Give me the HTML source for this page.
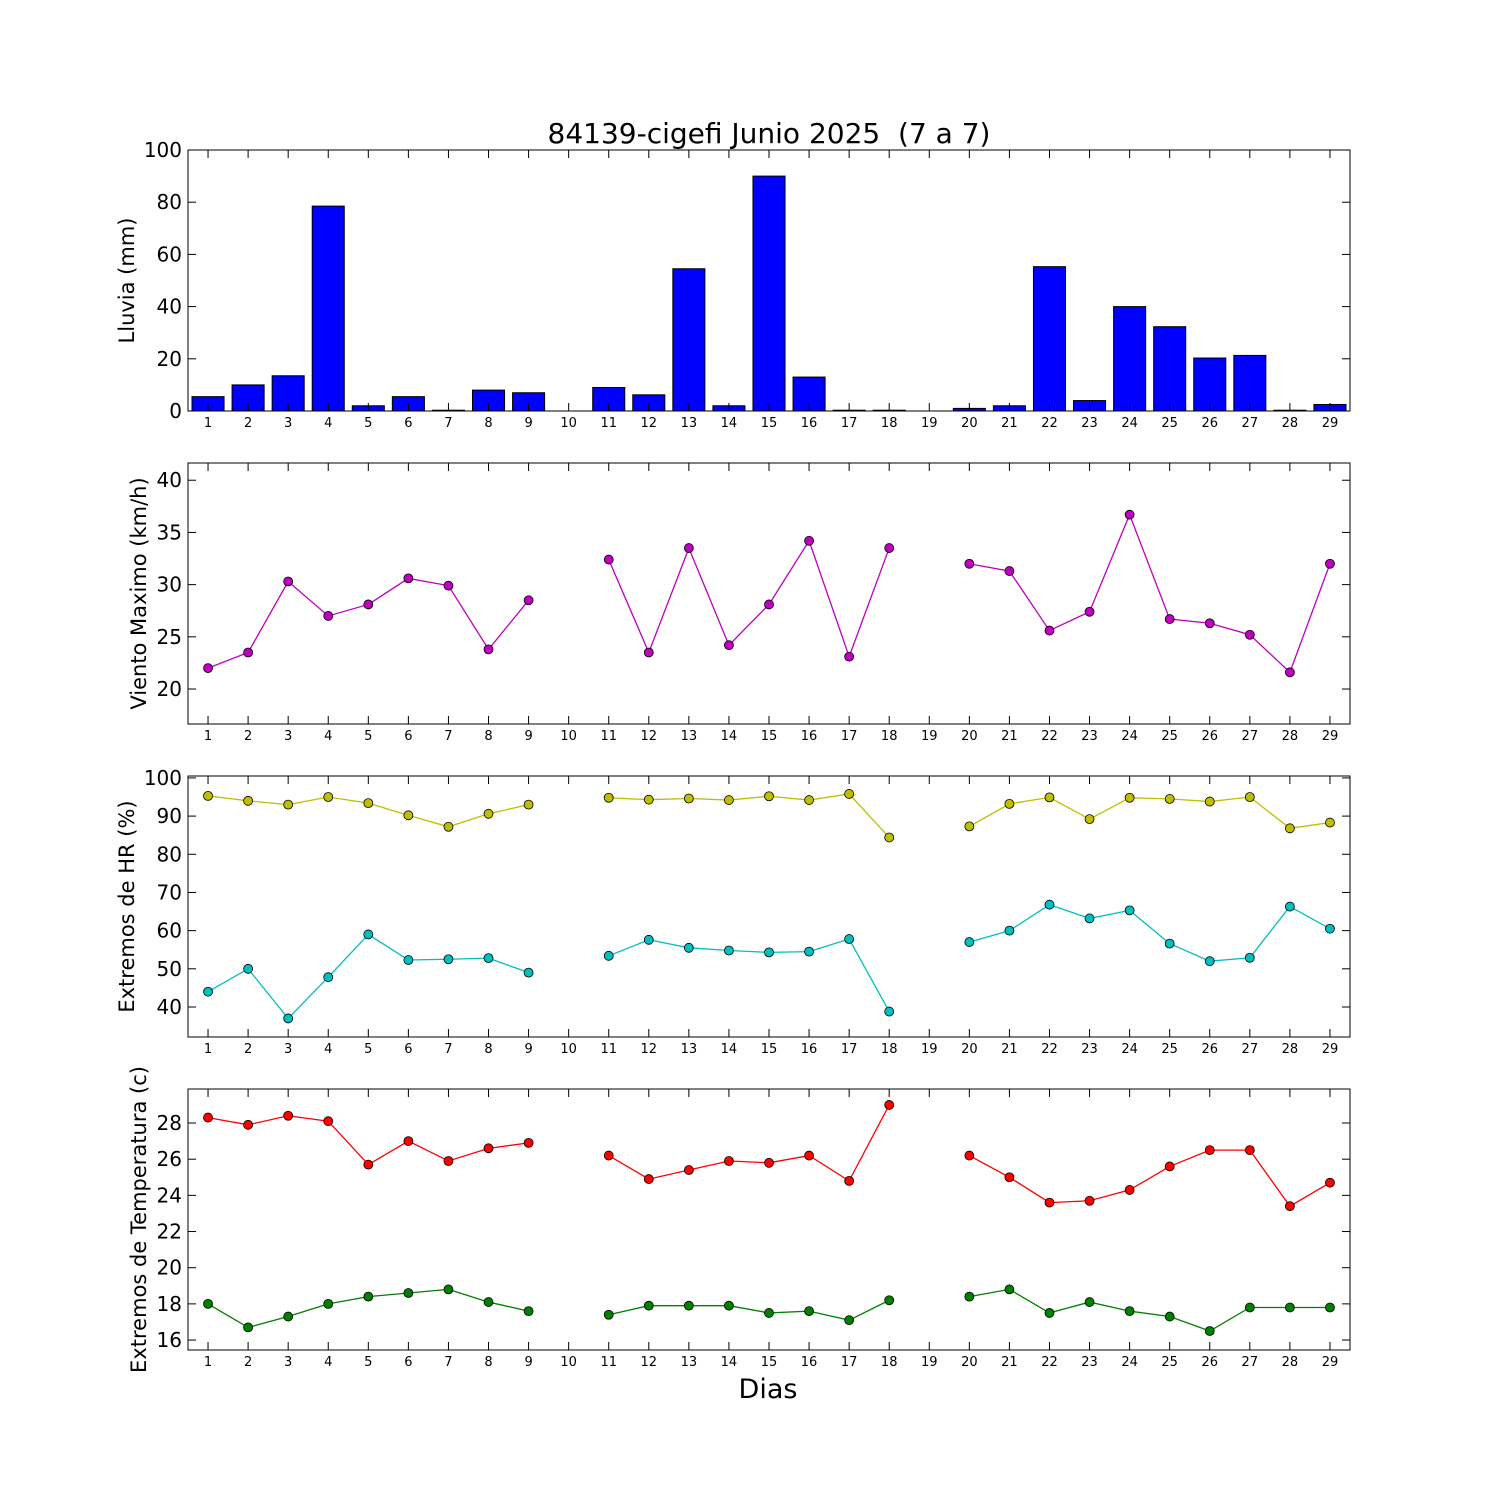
<!DOCTYPE html>
<html><head><meta charset="utf-8"><style>body{margin:0;background:#fff}svg{display:block}text{white-space:pre}</style></head>
<body>
<svg id="c" width="1500" height="1500" xmlns="http://www.w3.org/2000/svg" font-family="DejaVu Sans, Liberation Sans, sans-serif"></svg>
<script>
const days=[1,2,3,4,5,6,7,8,9,10,11,12,13,14,15,16,17,18,19,20,21,22,23,24,25,26,27,28,29];
const rain=[5.5,10,13.5,78.5,2,5.5,0.3,8,7,0,9,6.2,54.5,2,90,13,0.3,0.3,0,1,2,55.3,4,40,32.3,20.3,21.3,0.3,2.5];
const wind=[22,23.5,30.3,27,28.1,30.6,29.9,23.8,28.5,null,32.4,23.5,33.5,24.2,28.1,34.2,23.1,33.5,null,32,31.3,25.6,27.4,36.7,26.7,26.3,25.2,21.6,32];
const hrMax=[95.3,94,93,95,93.4,90.2,87.2,90.6,93,null,94.8,94.3,94.6,94.2,95.2,94.2,95.8,84.4,null,87.3,93.2,94.9,89.2,94.8,94.5,93.8,95,86.8,88.3];
const hrMin=[44,50,37,47.8,59,52.3,52.5,52.8,49,null,53.4,57.6,55.5,54.8,54.3,54.5,57.8,38.8,null,57,60,66.8,63.2,65.3,56.6,52,52.9,66.3,60.5];
const tMax=[28.3,27.9,28.4,28.1,25.7,27,25.9,26.6,26.9,null,26.2,24.9,25.4,25.9,25.8,26.2,24.8,29,null,26.2,25,23.6,23.7,24.3,25.6,26.5,26.5,23.4,24.7];
const tMin=[18,16.7,17.3,18,18.4,18.6,18.8,18.1,17.6,null,17.4,17.9,17.9,17.9,17.5,17.6,17.1,18.2,null,18.4,18.8,17.5,18.1,17.6,17.3,16.5,17.8,17.8,17.8];
const rainTicks=[0,20,40,60,80,100], windTicks=[20,25,30,35,40], hrTicks=[40,50,60,70,80,90,100], tTicks=[16,18,20,22,24,26,28];
const svg=document.getElementById('c');const NS='http://www.w3.org/2000/svg';
function el(t,a,p){const e=document.createElementNS(NS,t);for(const k in a)e.setAttribute(k,a[k]);(p||svg).appendChild(e);return e;}
const L=188,R=1350;
const xs=d=>L+(d-0.5)*(R-L)/29;
function panel(name,top,bot,y0,y1,ticks,label){
  const g=el('g',{});
  const ys=v=>bot-(v-y0)/(y1-y0)*(bot-top);
  return {g,ys,top,bot,ticks,label};
}
function frame(p){
  const {g,ys,top,bot,ticks,label}=p;
  el('rect',{x:L,y:top,width:R-L,height:bot-top,fill:'none',stroke:'#000','stroke-width':1},g);
  ticks.forEach(t=>{const y=ys(t);
    el('line',{x1:L,x2:L+8,y1:y,y2:y,stroke:'#000'},g);el('line',{x1:R,x2:R-8,y1:y,y2:y,stroke:'#000'},g);
    const tx=el('text',{x:L-6,y:y+7,'text-anchor':'end','font-size':20},g);tx.textContent=t;});
  days.forEach(d=>{const x=xs(d);
    el('line',{x1:x,x2:x,y1:bot,y2:bot-8,stroke:'#000'},g);el('line',{x1:x,x2:x,y1:top,y2:top+8,stroke:'#000'},g);
    const tx=el('text',{x:x,y:bot+16,'text-anchor':'middle','font-size':13},g);tx.textContent=d;});
  const yl=el('text',{x:0,y:0,'text-anchor':'middle','font-size':21,transform:`translate(${label[1]},${(top+bot)/2}) rotate(-90)`},g);
  yl.textContent=label[0];
}
function series(p,vals,color,name){
  const g=el('g',{},p.g);
  let seg=[];const segs=[];
  vals.forEach((v,i)=>{if(v==null){if(seg.length)segs.push(seg);seg=[];}else seg.push([xs(days[i]),p.ys(v)]);});
  if(seg.length)segs.push(seg);
  segs.forEach(s=>el('polyline',{points:s.map(q=>q.join(',')).join(' '),fill:'none',stroke:color,'stroke-width':1.3},g));
  vals.forEach((v,i)=>{if(v==null)return;const c=el('circle',{cx:xs(days[i]),cy:p.ys(v),r:4.5,fill:color,stroke:'#000','stroke-width':0.8},g);
    });
}
const t=el('text',{x:769,y:143,'text-anchor':'middle','font-size':28});t.textContent='84139-cigefi Junio 2025  (7 a 7)';
const p1=panel('rain-panel',150,411,0,100,rainTicks,['Lluvia (mm)',134]);
const bw=0.8*(R-L)/29;
rain.forEach((v,i)=>{const y=p1.ys(v);const b=el('rect',{x:xs(days[i])-bw/2,y:y,width:bw,height:p1.bot-y,fill:'#0000ff',stroke:'#000','stroke-width':1},p1.g);
  });
frame(p1);
const p2=panel('wind-panel',463,724,16.65,41.65,windTicks,['Viento Maximo (km/h)',146]);
series(p2,wind,'#bf00bf','wind-series');frame(p2);
const p3=panel('humidity-panel',776,1037,32.14,100.5,hrTicks,['Extremos de HR (%)',134]);
series(p3,hrMax,'#bfbf00','hr-max-series');series(p3,hrMin,'#00bfbf','hr-min-series');frame(p3);
const p4=panel('temperature-panel',1089,1350,15.45,29.88,tTicks,['Extremos de Temperatura (c)',146]);
series(p4,tMax,'#ff0000','tmax-series');series(p4,tMin,'#008000','tmin-series');frame(p4);
const xl=el('text',{x:768,y:1398,'text-anchor':'middle','font-size':27});xl.textContent='Dias';
</script>
</body></html>
